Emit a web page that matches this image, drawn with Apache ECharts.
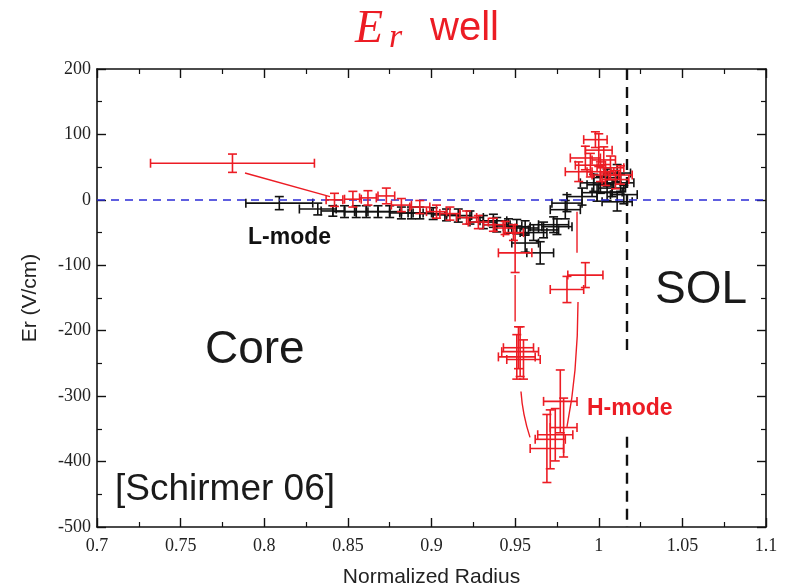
<!DOCTYPE html>
<html>
<head>
<meta charset="utf-8">
<script src="https://cdn.jsdelivr.net/npm/echarts@6/dist/echarts.min.js"></script>
<style>
  html, body { margin: 0; padding: 0; background: #ffffff; }
  #chart { width: 785px; height: 586px; }
</style>
</head>
<body>
<div id="chart"></div>
<script>
// Radial electric field profiles: L-mode (black) and H-mode (red), with error bars
const lModeRadius = [0.809, 0.832, 0.841, 0.848, 0.855, 0.861, 0.868, 0.875, 0.882, 0.888,
  0.893, 0.901, 0.909, 0.916, 0.923, 0.931, 0.937, 0.939, 0.946, 0.951,
  0.956, 0.961, 0.967, 0.973, 0.975, 0.965, 0.956, 0.980, 0.981, 0.990,
  0.999, 1.005, 1.011, 0.997, 1.005, 1.011, 1.008, 1.001, 1.013, 1.015];
const lModeEr = [-5, -14, -17, -18, -18, -18, -18, -18, -20, -20,
  -20, -21, -23, -24, -27, -34, -32, -38, -40, -41,
  -43, -50, -46, -38, -41, -81, -66, -15, -5, 5,
  11, 12, -3, 26, 34, 41, 18, 23, 26, 8];
const lModeRadiusErr = [0.02, 0.011, 0.007, 0.007, 0.007, 0.007, 0.007, 0.007, 0.007, 0.007,
  0.007, 0.008, 0.008, 0.008, 0.008, 0.008, 0.008, 0.008, 0.008, 0.008,
  0.008, 0.008, 0.009, 0.009, 0.009, 0.008, 0.008, 0.009, 0.009, 0.009,
  0.009, 0.009, 0.009, 0.008, 0.008, 0.008, 0.008, 0.008, 0.008, 0.008];
const lModeErErr = [10, 9, 8, 9, 9, 9, 9, 9, 9, 9,
  9, 9, 9, 10, 10, 10, 10, 11, 11, 11,
  11, 12, 12, 12, 12, 17, 14, 14, 13, 13,
  13, 13, 14, 13, 13, 13, 13, 13, 13, 14];

const hModeRadius = [0.781, 0.842, 0.853, 0.862, 0.873, 0.882, 0.893, 0.903, 0.911, 0.921,
  0.928, 0.937, 0.944, 0.949, 0.950, 0.953, 0.951, 0.955, 0.952, 0.981,
  0.992, 0.977, 0.974, 0.969, 0.971, 0.979, 1.000, 1.003, 0.995, 0.988,
  1.007, 1.004, 1.010, 0.998, 0.992, 1.001, 1.013];
const hModeEr = [56, 0, 1, 3, 6, -8, -11, -18, -21, -27,
  -34, -38, -43, -50, -81, -232, -240, -244, -226, -137,
  -115, -308, -359, -380, -366, -348, 76, 61, 53, 43,
  49, 38, 31, 92, 64, 43, 38];
const hModeRadiusErr = [0.049, 0.005, 0.005, 0.005, 0.005, 0.006, 0.006, 0.006, 0.006, 0.006,
  0.006, 0.006, 0.006, 0.006, 0.010, 0.011, 0.011, 0.010, 0.009, 0.010,
  0.0105, 0.010, 0.0105, 0.010, 0.009, 0.008, 0.008, 0.007, 0.009, 0.008,
  0.008, 0.008, 0.008, 0.007, 0.009, 0.008, 0.007];
const hModeErErr = [14, 10, 12, 11, 12, 10, 10, 10, 10, 10,
  10, 10, 10, 12, 30, 38, 34, 30, 32, 20,
  19, 48, 40, 52, 45, 45, 25, 20, 18, 15,
  18, 16, 14, 12, 18, 15, 14];

// Hand-drawn guide strokes following the H-mode trajectory
const hModeTraces = [
  { radius: [0.7885, 0.8393], er: [41, 5] },
  { radius: [0.950, 0.950], er: [-115, -186] },
  { radius: [0.9535, 0.9553, 0.9589], er: [-293, -328, -363] },
  { radius: [0.9876, 0.9858, 0.9810], er: [-156, -260, -347] },
  { radius: [0.987, 0.987], er: [-18, -81] }
];

// Separatrix position and its two drawn pieces (broken around the H-mode tag)
const separatrixRadius = 1.0165;
const separatrixPieces = [[200, -240], [-362, -500]];
const zeroLevel = 0;

const RED = '#ec1c24';
const BLACK = '#111111';

function errorBarSeries(name, xs, ys, xe, ye, color, z) {
  return {
    type: 'custom',
    name: name,
    z: z,
    xAxisIndex: 0,
    yAxisIndex: 0,
    data: xs.map((x, i) => [x, ys[i], xe[i], ye[i]]),
    encode: { x: 0, y: 1 },
    renderItem: function (params, api) {
      const x = api.value(0), y = api.value(1), dx = api.value(2), dy = api.value(3);
      const c = api.coord([x, y]);
      const l = api.coord([x - dx, y]);
      const r = api.coord([x + dx, y]);
      const t = api.coord([x, y + dy]);
      const b = api.coord([x, y - dy]);
      const cap = 4.5;
      const st = { stroke: color, lineWidth: 1.6, fill: null };
      const seg = (x1, y1, x2, y2) => ({ type: 'line', shape: { x1, y1, x2, y2 }, style: st });
      return {
        type: 'group',
        children: [
          seg(l[0], c[1], r[0], c[1]),
          seg(c[0], t[1], c[0], b[1]),
          seg(l[0], c[1] - cap, l[0], c[1] + cap),
          seg(r[0], c[1] - cap, r[0], c[1] + cap),
          seg(c[0] - cap, t[1], c[0] + cap, t[1]),
          seg(c[0] - cap, b[1], c[0] + cap, b[1])
        ]
      };
    }
  };
}

const traceSeries = hModeTraces.map((tr, k) => ({
  type: 'line',
  name: 'trace' + k,
  data: tr.radius.map((x, i) => [x, tr.er[i]]),
  smooth: tr.radius.length > 2,
  symbol: 'none',
  lineStyle: { color: RED, width: 1.4 },
  z: 4,
  silent: true
}));

const tickFont = { fontFamily: 'Liberation Serif', fontSize: 18, color: '#222' };

function axisCommon(extra) {
  return Object.assign({
    type: 'value',
    axisLine: { show: true, onZero: false, lineStyle: { color: '#111', width: 1.6 } },
    axisTick: { show: true, inside: true, length: 9, lineStyle: { color: '#111', width: 1.4 } },
    minorTick: { show: true, splitNumber: 2, length: 5, lineStyle: { color: '#111', width: 1.2 } },
    splitLine: { show: false }
  }, extra);
}

const chart = echarts.init(document.getElementById('chart'), null, { renderer: 'canvas' });

chart.setOption({
  backgroundColor: '#ffffff',
  animation: false,
  grid: { left: 97, right: 19, top: 69, bottom: 59, containLabel: false, outerBoundsMode: 'none' },
  xAxis: [
    axisCommon({
      min: 0.7, max: 1.1, interval: 0.05, position: 'bottom',
      axisLabel: Object.assign({ margin: 10, formatter: v => String(parseFloat(v.toFixed(2))) }, tickFont),
      name: 'Normalized Radius', nameLocation: 'middle', nameGap: 40,
      nameTextStyle: { fontFamily: 'Liberation Sans', fontSize: 21, color: '#222' }
    }),
    axisCommon({
      min: 0.7, max: 1.1, interval: 0.05, position: 'top',
      axisLabel: { show: false }
    })
  ],
  yAxis: [
    axisCommon({
      min: -500, max: 200, interval: 100, position: 'left',
      axisLabel: Object.assign({ margin: 6 }, tickFont),
      name: 'Er (V/cm)', nameLocation: 'middle', nameGap: 56, nameRotate: 90,
      nameTextStyle: { fontFamily: 'Liberation Sans', fontSize: 21, color: '#222' }
    }),
    axisCommon({
      min: -500, max: 200, interval: 100, position: 'right',
      axisLabel: { show: false }
    })
  ],
  series: [
    {
      type: 'line',
      name: 'reference',
      data: [],
      markLine: {
        silent: true,
        symbol: 'none',
        label: { show: false },
        data: [
          { yAxis: zeroLevel, lineStyle: { color: '#2b2bd6', width: 1.5, type: [8, 6] } }
        ].concat(separatrixPieces.map(p => [
          { coord: [separatrixRadius, p[0]], lineStyle: { color: '#111', width: 2.4, type: [11, 7] } },
          { coord: [separatrixRadius, p[1]] }
        ]))
      },
      z: 2
    },
    errorBarSeries('L-mode', lModeRadius, lModeEr, lModeRadiusErr, lModeErErr, BLACK, 3),
    errorBarSeries('H-mode', hModeRadius, hModeEr, hModeRadiusErr, hModeErErr, RED, 5)
  ].concat(traceSeries),
  graphic: [
    { type: 'text', x: 355, y: 30, style: { text: 'E', font: 'italic 46px "Liberation Serif"', fill: RED, verticalAlign: 'middle' } },
    { type: 'text', x: 389, y: 38, style: { text: 'r', font: 'italic 34px "Liberation Serif"', fill: RED, verticalAlign: 'middle' } },
    { type: 'text', x: 430, y: 29, style: { text: 'well', font: '40px "Liberation Sans"', fill: RED, verticalAlign: 'middle' } },
    { type: 'text', x: 205, y: 350, style: { text: 'Core', font: '46px "Liberation Sans"', fill: '#1a1a1a', verticalAlign: 'middle' } },
    { type: 'text', x: 655, y: 290, style: { text: 'SOL', font: '46px "Liberation Sans"', fill: '#1a1a1a', verticalAlign: 'middle' } },
    { type: 'text', x: 115, y: 490, style: { text: '[Schirmer 06]', font: '37px "Liberation Sans"', fill: '#1a1a1a', verticalAlign: 'middle' } },
    { type: 'text', x: 248, y: 238, style: { text: 'L-mode', font: 'bold 23px "Liberation Sans"', fill: '#111', verticalAlign: 'middle' } },
    { type: 'text', x: 587, y: 409, style: { text: 'H-mode', font: 'bold 23px "Liberation Sans"', fill: RED, verticalAlign: 'middle' } }
  ]
});
</script>
</body>
</html>
